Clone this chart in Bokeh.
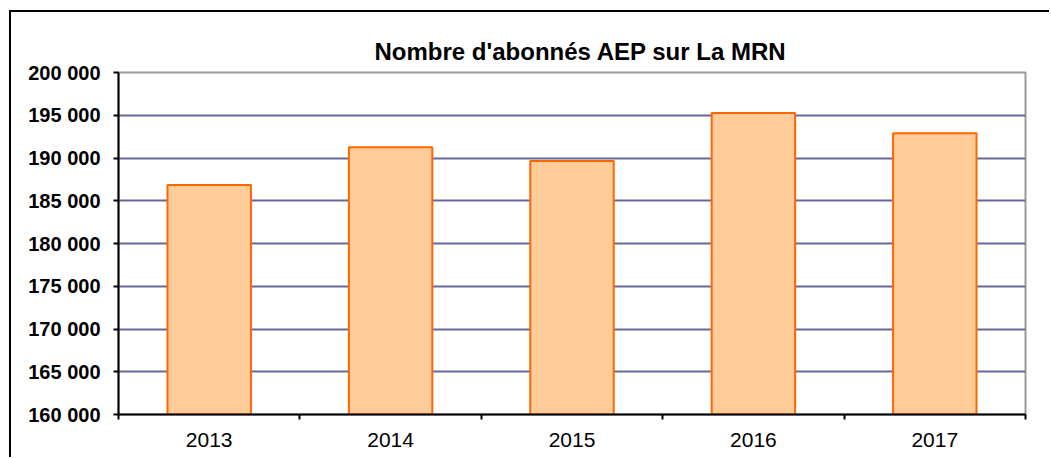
from bokeh.plotting import figure
from bokeh.models import FixedTicker, Range1d, ColumnDataSource
from bokeh.embed import file_html
from bokeh.resources import INLINE

years = ["2013", "2014", "2015", "2016", "2017"]
abonnes = [186850, 191250, 189650, 195250, 192900]
y_ticks = list(range(160000, 200001, 5000))
y_tick_labels = {t: f"{t:,}".replace(",", " ") for t in y_ticks}
title_text = "Nombre d'abonnés AEP sur La MRN"

x_pos = [i + 0.5 for i in range(len(years))]
src = ColumnDataSource(dict(x=x_pos, top=abonnes, year=years))

p = figure(width=1040, height=447, output_backend="svg", toolbar_location=None,
           x_range=Range1d(0, len(years)), y_range=Range1d(y_ticks[0], y_ticks[-1]),
           min_border_left=107, min_border_right=26, min_border_top=60, min_border_bottom=45,
           title=title_text)
p.styles = {"border-left": "2px solid black", "border-top": "2px solid black",
            "margin-left": "9px", "margin-top": "10px"}

p.vbar(x="x", top="top", bottom=y_ticks[0], width=0.46, source=src,
       fill_color="#FFCC99", line_color="#FF6600", line_width=2)

p.background_fill_color = "white"
p.border_fill_color = "white"
p.outline_line_color = "#999999"
p.outline_line_width = 2

# title
p.title.text_font = "Liberation Sans"
p.title.text_font_size = "24px"
p.title.text_font_style = "bold"
p.title.text_color = "black"
p.title.align = "left"
p.title.offset = 256
p.title.standoff = 15

# x axis
xa = p.xaxis[0]
xa.ticker = FixedTicker(ticks=x_pos, minor_ticks=list(range(len(years) + 1)))
xa.major_label_overrides = {x: y for x, y in zip(x_pos, years)}
xa.major_tick_out = 0
xa.major_tick_in = 0
xa.minor_tick_out = 5
xa.minor_tick_in = 0
xa.minor_tick_line_color = "black"
xa.minor_tick_line_width = 2
xa.axis_line_color = "black"
xa.axis_line_width = 2
xa.major_label_text_font = "Liberation Sans"
xa.major_label_text_font_size = "21px"
xa.major_label_text_color = "black"
xa.major_label_standoff = 13

# y axis
ya = p.yaxis[0]
ya.ticker = FixedTicker(ticks=y_ticks)
ya.major_label_overrides = y_tick_labels
ya.major_tick_out = 5
ya.major_tick_in = 0
ya.major_tick_line_color = "black"
ya.major_tick_line_width = 2
ya.minor_tick_out = 0
ya.minor_tick_in = 0
ya.axis_line_color = "black"
ya.axis_line_width = 2
ya.major_label_text_font = "Liberation Sans"
ya.major_label_text_font_size = "20px"
ya.major_label_text_font_style = "bold"
ya.major_label_text_color = "black"
ya.major_label_standoff = 13

# grid
p.xgrid.grid_line_color = None
p.ygrid.ticker = FixedTicker(ticks=y_ticks[1:-1])
p.ygrid.grid_line_color = "#666699"
p.ygrid.grid_line_width = 2

open("out.html", "w").write(file_html(p, INLINE))
